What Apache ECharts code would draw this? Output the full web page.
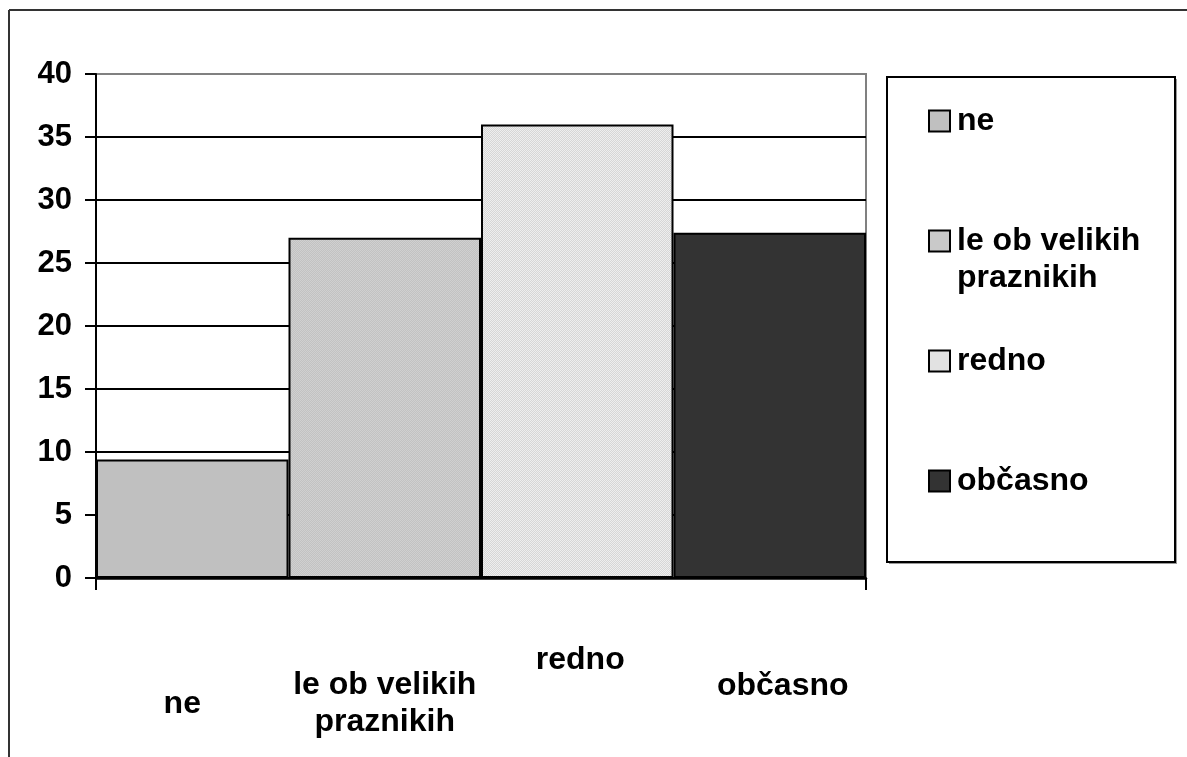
<!DOCTYPE html>
<html>
<head>
<meta charset="utf-8">
<script src="https://cdn.jsdelivr.net/npm/echarts@6/dist/echarts.min.js"></script>
<style>
html,body{margin:0;padding:0;background:#fff;}
#chart{width:1187px;height:757px;}
</style>
</head>
<body>
<div id="chart"></div>
<script>
// ---- data ----
const categories = ['ne', 'le ob velikih praznikih', 'redno', 'občasno'];
const values = [9.4, 27.0, 36.0, 27.4];
const yTicks = [0, 5, 10, 15, 20, 25, 30, 35, 40];

// ---- styles ----
function checker(c1, c2) {
  const cv = document.createElement('canvas');
  cv.width = 2; cv.height = 2;
  const ctx = cv.getContext('2d');
  ctx.fillStyle = c1; ctx.fillRect(0, 0, 2, 2);
  ctx.fillStyle = c2; ctx.fillRect(0, 0, 1, 1); ctx.fillRect(1, 1, 1, 1);
  return { image: cv, repeat: 'repeat' };
}
const fills = ['#c0c0c0', checker('#c2c2c2', '#d0d0d0'), checker('#d6d6d6', '#eeeeee'), '#333333'];
const FONT = "'Liberation Sans', Arial, sans-serif";
const FS = 32;

const series = categories.map((name, i) => ({
  name: name,
  type: 'bar',
  stack: 'all',
  barWidth: '100%',
  barCategoryGap: '0%',
  data: values.map((v, j) => (j === i ? v : '-')),
  itemStyle: { color: fills[i], borderColor: '#000', borderWidth: 2 }
}));

const labelKey = ['n', 'l', 'r', 'o'];
const legendTops = [103, 225, 343, 463];

const baseTxt = { fontSize: FS, fontWeight: 'bold', color: '#000', fontFamily: FONT };
const legends = categories.map((name, i) => ({
  data: [name],
  left: 928,
  top: legendTops[i],
  padding: 0,
  orient: 'vertical',
  selectedMode: false,
  icon: 'rect',
  itemWidth: 21,
  itemHeight: 21,
  itemStyle: { borderColor: '#000', borderWidth: 2 },
  formatter: i === 1 ? (n => '{a|le ob velikih}\n{b|praznikih}') : (n => n),
  textStyle: i === 1
    ? Object.assign({}, baseTxt, {
        rich: {
          a: Object.assign({}, baseTxt, { height: 37, padding: [37, 0, 0, 2] }),
          b: Object.assign({}, baseTxt, { height: 37, padding: [0, 0, 0, 2] })
        }
      })
    : Object.assign({}, baseTxt, { lineHeight: 36, padding: [0, 0, 0, 2] })
}));

const splitColors = yTicks.map((t, i) => (i === yTicks.length - 1 ? '#808080' : '#000'));

const option = {
  backgroundColor: '#fff',
  animation: false,
  grid: { left: 96, right: 321, top: 74, bottom: 179, show: true, borderColor: '#808080', borderWidth: 2, backgroundColor: 'transparent' },
  legend: legends,
  xAxis: {
    type: 'category',
    data: categories,
    axisLine: { lineStyle: { color: '#000', width: 2.5 } },
    axisTick: { show: false },
    axisLabel: {
      interval: 0,
      margin: 0,
      color: '#000',
      fontFamily: FONT,
      fontSize: FS,
      fontWeight: 'bold',
      formatter: function (v, idx) {
        if (idx === 1) return '{l|le ob velikih}\n{l2|praznikih}';
        return '{' + labelKey[idx] + '|' + v + '}';
      },
      rich: {
        n: Object.assign({}, baseTxt, { height: 37, padding: [108, 20, 0, 0] }),
        l: Object.assign({}, baseTxt, { height: 37, padding: [89, 0, 0, 0] }),
        l2: Object.assign({}, baseTxt, { height: 37 }),
        r: Object.assign({}, baseTxt, { height: 37, padding: [64, 0, 0, 6] }),
        o: Object.assign({}, baseTxt, { height: 37, padding: [90, 0, 0, 26] })
      }
    }
  },
  yAxis: {
    type: 'value',
    min: 0,
    max: 40,
    interval: 5,
    axisLine: { show: true, lineStyle: { color: '#000', width: 2 } },
    axisTick: { show: true, length: 11, lineStyle: { color: '#000', width: 2 } },
    axisLabel: { margin: 24, color: '#000', fontFamily: FONT, fontSize: 31, fontWeight: 'bold' },
    splitLine: { show: true, lineStyle: { color: splitColors, width: 2 } }
  },
  graphic: [
    { type: 'line', z: -1, shape: { x1: 9, y1: 10, x2: 1187, y2: 10 }, style: { stroke: '#333', lineWidth: 2 } },
    { type: 'line', z: -1, shape: { x1: 9, y1: 10, x2: 9, y2: 757 }, style: { stroke: '#333', lineWidth: 2 } },
    { type: 'rect', z: -1, shape: { x: 889, y: 79, width: 288, height: 485 }, style: { fill: '#999', stroke: null } },
    { type: 'rect', z: -1, shape: { x: 887, y: 77, width: 288, height: 485 }, style: { fill: '#fff', stroke: '#000', lineWidth: 2 } },
    { type: 'line', z: 10, shape: { x1: 96, y1: 578, x2: 96, y2: 590 }, style: { stroke: '#000', lineWidth: 2 } },
    { type: 'line', z: 10, shape: { x1: 866, y1: 578, x2: 866, y2: 590 }, style: { stroke: '#000', lineWidth: 2 } }
  ],
  series: series
};

const chart = echarts.init(document.getElementById('chart'), null, { renderer: 'canvas' });
chart.setOption(option);
</script>
</body>
</html>
